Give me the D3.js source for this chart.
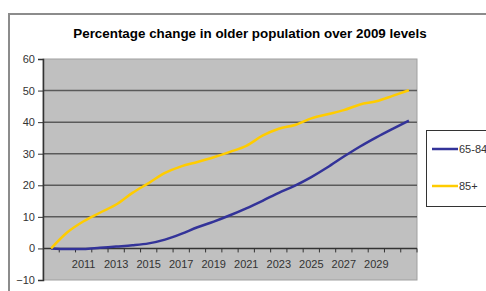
<!DOCTYPE html>
<html>
<head>
<meta charset="utf-8">
<script src="https://cdn.jsdelivr.net/npm/d3@7"></script>
<style>
  body { margin: 0; background: #fff; }
  svg { display: block; font-family: "Liberation Sans", Arial, sans-serif; }
</style>
</head>
<body>
<div id="chart"></div>
<script>
const years = d3.range(2009, 2032).map(String);
const labelYears = ['2011', '2013', '2015', '2017', '2019', '2021', '2023', '2025', '2027', '2029'];
const yTicks = [-10, 0, 10, 20, 30, 40, 50, 60];

const age65to84 = [0, -0.2, -0.2, 0.2, 0.6, 1.0, 1.6, 2.8, 4.6, 6.7, 8.5, 10.5, 12.7, 15.1, 17.6,
                   19.9, 22.6, 25.7, 29.1, 32.3, 35.2, 37.9, 40.5];
const age85plus = [0, 5.1, 8.6, 11.3, 13.9, 17.6, 20.7, 23.9, 26.0, 27.4, 28.9, 30.6, 32.5, 35.7, 37.9,
                   39.1, 41.2, 42.5, 43.8, 45.6, 46.6, 48.3, 50.1];

const seriesNames = ['65-84', '85+'];
const seriesColors = ['#333399', '#FFCC00'];

const width = 486, height = 291;
const plot = { left: 43, right: 417, top: 59, bottom: 280 };

const svg = d3.select('#chart').append('svg')
  .attr('width', width)
  .attr('height', height);

// outer chart frame
svg.append('path')
  .attr('d', `M9,${height} V14 H${width}`)
  .attr('fill', 'none')
  .attr('stroke', '#8c8c8c')
  .attr('stroke-width', 2);

svg.append('text')
  .attr('x', 250)
  .attr('y', 38)
  .attr('text-anchor', 'middle')
  .attr('font-size', 13.4)
  .attr('font-weight', 'bold')
  .text('Percentage change in older population over 2009 levels');

const x = d3.scaleBand().domain(years).range([plot.left, plot.right]);
const y = d3.scaleLinear().domain([-10, 60]).range([plot.bottom, plot.top]);

svg.append('rect')
  .attr('x', plot.left)
  .attr('y', plot.top)
  .attr('width', plot.right - plot.left)
  .attr('height', plot.bottom - plot.top)
  .attr('fill', '#c0c0c0')
  .attr('stroke', '#a0a0a0')
  .attr('stroke-width', 1);

// gridlines
svg.append('g').selectAll('line')
  .data(yTicks.filter(t => t > -10 && t < 60 && t !== 0))
  .enter().append('line')
  .attr('x1', plot.left)
  .attr('x2', plot.right)
  .attr('y1', d => y(d))
  .attr('y2', d => y(d))
  .attr('stroke', '#5a5a5a')
  .attr('stroke-width', 1.5);

// y axis
const yAxis = d3.axisLeft(y).tickValues(yTicks).tickSize(5).tickPadding(3);
const yg = svg.append('g')
  .attr('transform', `translate(${plot.left},0)`)
  .call(yAxis);
yg.select('.domain').attr('stroke', '#333').attr('stroke-width', 1.5);
yg.selectAll('.tick line').attr('stroke', '#333');
yg.selectAll('text').attr('font-size', 11).attr('fill', '#333').attr('font-family', null);

// x axis at zero, ticks at category boundaries
const xg = svg.append('g').attr('transform', `translate(0,${y(0)})`);
xg.append('line')
  .attr('x1', plot.left)
  .attr('x2', plot.right)
  .attr('stroke', '#333')
  .attr('stroke-width', 1.5);
xg.selectAll('.tk')
  .data(years)
  .enter().append('line')
  .attr('x1', d => x(d) + x.bandwidth())
  .attr('x2', d => x(d) + x.bandwidth())
  .attr('y1', 0)
  .attr('y2', 4)
  .attr('stroke', '#333');
xg.selectAll('text')
  .data(labelYears)
  .enter().append('text')
  .attr('x', d => x(d) + x.bandwidth() / 2)
  .attr('y', 20)
  .attr('text-anchor', 'middle')
  .attr('font-size', 11)
  .attr('fill', '#333')
  .text(d => d);

const line = d3.line()
  .x((d, i) => x(years[i]) + x.bandwidth() / 2)
  .y(d => y(d))
  .curve(d3.curveMonotoneX);

[age65to84, age85plus].forEach((data, i) => {
  svg.append('path')
    .datum(data)
    .attr('d', line)
    .attr('fill', 'none')
    .attr('stroke', seriesColors[i])
    .attr('stroke-width', 2.5)
    .attr('stroke-linejoin', 'round');
});

// legend
const legend = svg.append('g');
legend.append('rect')
  .attr('x', 426.5)
  .attr('y', 130.5)
  .attr('width', 70)
  .attr('height', 76)
  .attr('fill', '#fff')
  .attr('stroke', '#333');
seriesNames.forEach((name, i) => {
  const ly = 149 + i * 37;
  legend.append('line')
    .attr('x1', 432).attr('x2', 458)
    .attr('y1', ly).attr('y2', ly)
    .attr('stroke', seriesColors[i])
    .attr('stroke-width', 2.5);
  legend.append('text')
    .attr('x', 459)
    .attr('y', ly + 4)
    .attr('font-size', 11)
    .attr('fill', '#333')
    .text(name);
});
</script>
</body>
</html>
